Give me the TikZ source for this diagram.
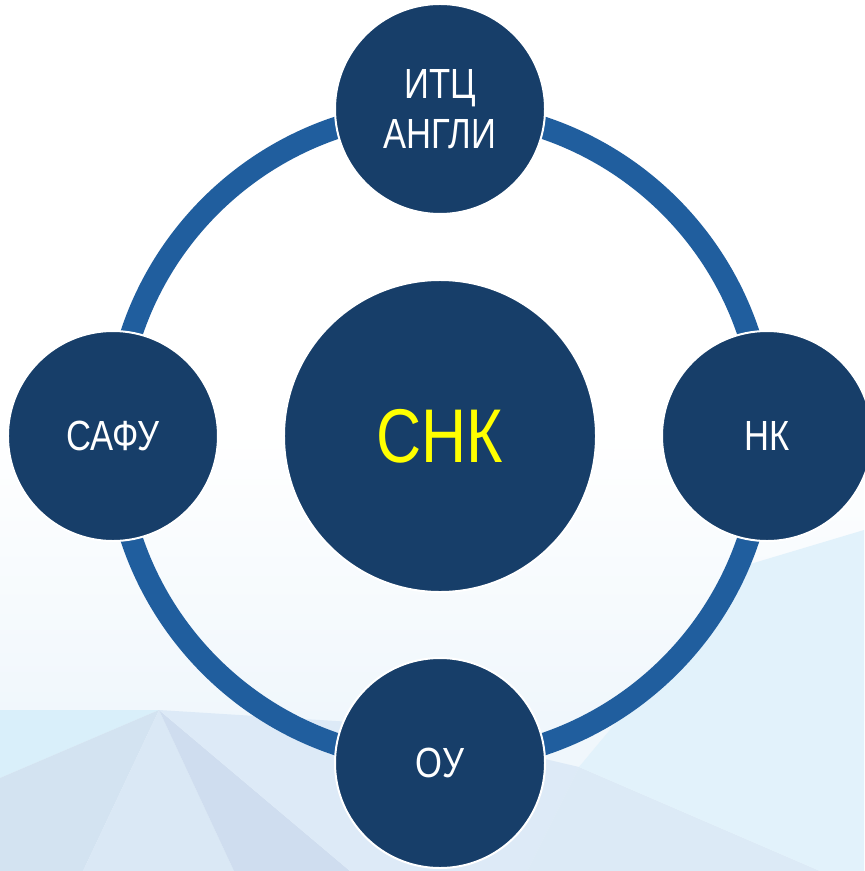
\documentclass[tikz,border=0pt]{standalone}
\usepackage{fontspec}
\setmainfont{Liberation Sans}[FakeStretch=0.82]
\usepackage{tikz}
\usetikzlibrary{positioning, backgrounds}
\definecolor{navy}{RGB}{23,62,105}
\definecolor{ringblue}{RGB}{32,94,158}
\definecolor{hubyellow}{RGB}{255,255,0}
\definecolor{bgfaint}{RGB}{240,247,252}
\definecolor{bgA}{RGB}{217,239,250}
\definecolor{bgB}{RGB}{211,227,241}
\definecolor{bgC}{RGB}{218,232,245}
\definecolor{bgD}{RGB}{207,221,239}
\definecolor{bgE}{RGB}{221,234,247}
\definecolor{bgF}{RGB}{226,242,251}
\definecolor{bgG}{RGB}{220,234,246}
\tikzset{
  satellite/.style={circle, minimum size=6.3cm, inner sep=0pt, fill=navy, draw=white, line width=1.7pt, text=white, align=center, font=\fontsize{36}{43}\selectfont},
  hub/.style={circle, minimum size=9.36cm, inner sep=0pt, fill=navy, draw=white, line width=1.7pt, text=hubyellow, font=\fontsize{65}{75}\selectfont},
  ringline/.style={draw=ringblue, line width=19pt},
  bgpoly/.style={draw=none},
}

\begin{document}
\begin{tikzpicture}[node distance=1.92cm, x=0.03cm, y=-0.03cm]
\useasboundingbox (0,0) rectangle (864,871);
\node[hub] (snk) at (440,436) {СНК};
\node[satellite, above=of snk] (itc) {ИТЦ\\АНГЛИ};
\node[satellite, below=of snk] (ou) {ОУ};
\node[satellite, left=of snk] (safu) {САФУ};
\node[satellite, right=of snk] (nk) {НК};

\begin{pgfonlayer}{background}
% background
\begin{scope}
\clip (0,0) rectangle (864,871);
\shade[top color=white, bottom color=bgfaint] (0,430) rectangle (864,720);
\fill[bgfaint] (0,720) rectangle (864,871);
\fill[bgpoly, fill=bgA] (0,710) -- (159,710) -- (0,778) -- cycle;
\fill[bgpoly, fill=bgB] (0,778) -- (159,710) -- (83,871) -- (0,871) -- cycle;
\fill[bgpoly, fill=bgC] (159,710) -- (83,871) -- (234,871) -- cycle;
\fill[bgpoly, fill=bgD] (159,710) -- (234,871) -- (350,871) -- cycle;
\fill[bgpoly, fill=bgE] (159,710) -- (400,725) -- (579,767) -- (527,871) -- (350,871) -- cycle;
\fill[bgpoly, fill=bgG] (579,767) -- (527,871) -- (820,871) -- cycle;
\fill[bgpoly, fill=bgF] (579,767) -- (820,871) -- (864,871) -- (864,530) -- (747,565) -- cycle;
\end{scope}
\draw[ringline] (snk.center) circle[radius=9.75cm];
\end{pgfonlayer}
\end{tikzpicture}
\end{document}
